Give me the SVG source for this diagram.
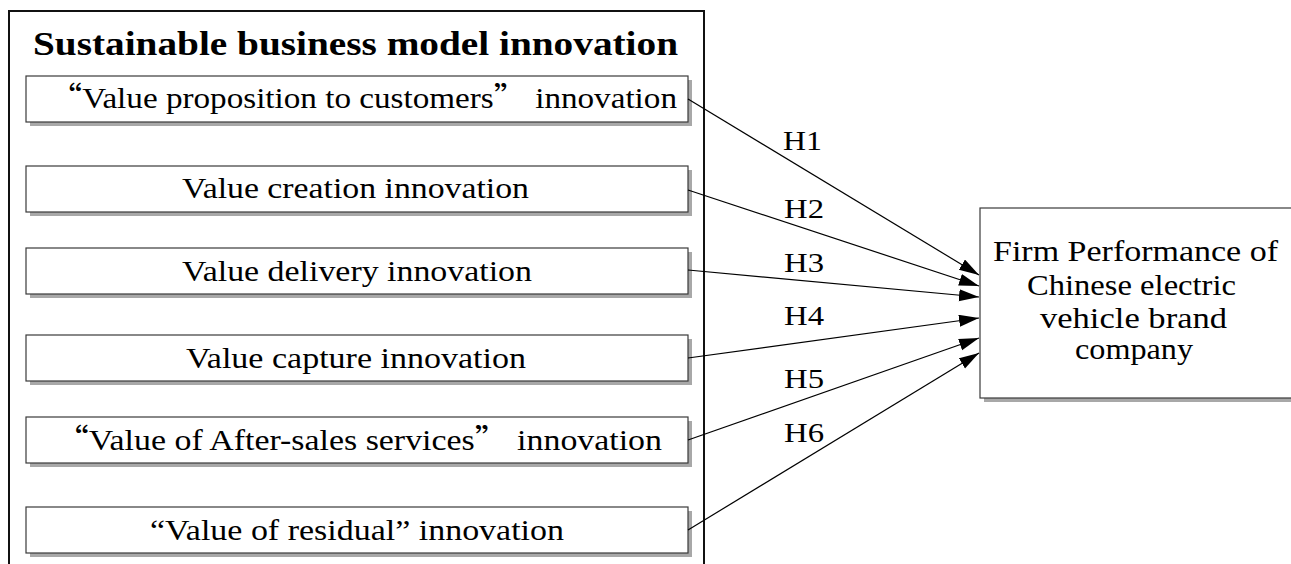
<svg xmlns="http://www.w3.org/2000/svg" width="1291" height="564" viewBox="0 0 1291 564">
  <style>
    .shadow { fill: #a8a8a8; }
    .box { fill: #ffffff; stroke: #3a3a3a; stroke-width: 1.2; }
    .frame { fill: none; stroke: #111111; stroke-width: 2; }
    .lbl { font-size: 30px; fill: #000; }
    .title { font-size: 33px; font-weight: bold; fill: #000; }
    .hyp { font-size: 28px; fill: #000; }
    .edge { stroke: #000; stroke-width: 1.2; fill: none; marker-end: url(#arrow); }
  </style>
  <defs>
    <marker id="arrow" markerUnits="userSpaceOnUse" markerWidth="22" markerHeight="14" refX="20" refY="6" orient="auto">
      <path d="M0,0 L20,6 L0,12 z" fill="#000"/>
    </marker>
  </defs>

  <rect width="1291" height="564" fill="#ffffff"/>

  <g font-family="Liberation Serif, Times New Roman, serif">
    <!-- outer container -->
    <g id="container">
      <rect class="frame" x="9" y="11" width="695" height="600"/>
      <text class="title" font-family="Liberation Serif, serif" x="33" y="55" textLength="645" lengthAdjust="spacingAndGlyphs">Sustainable business model innovation</text>
    </g>

    <g id="n1">
      <rect class="shadow" x="30" y="80" width="662" height="46"/>
      <rect class="box" x="26" y="76" width="662" height="46"/>
      <text class="lbl" font-family="Liberation Serif, serif" x="49" y="108" textLength="628" lengthAdjust="spacingAndGlyphs"><tspan font-family="Noto Sans CJK SC, sans-serif">“</tspan>Value proposition to customers<tspan font-family="Noto Sans CJK SC, sans-serif">”</tspan> innovation</text>
    </g>

    <g id="n2">
      <rect class="shadow" x="30" y="170" width="662" height="46"/>
      <rect class="box" x="26" y="166" width="662" height="46"/>
      <text class="lbl" font-family="Liberation Serif, serif" x="182" y="198" textLength="347" lengthAdjust="spacingAndGlyphs">Value creation innovation</text>
    </g>

    <g id="n3">
      <rect class="shadow" x="30" y="252" width="662" height="46"/>
      <rect class="box" x="26" y="248" width="662" height="46"/>
      <text class="lbl" font-family="Liberation Serif, serif" x="182" y="281" textLength="350" lengthAdjust="spacingAndGlyphs">Value delivery innovation</text>
    </g>

    <g id="n4">
      <rect class="shadow" x="30" y="339" width="662" height="46"/>
      <rect class="box" x="26" y="335" width="662" height="46"/>
      <text class="lbl" font-family="Liberation Serif, serif" x="186" y="368" textLength="340" lengthAdjust="spacingAndGlyphs">Value capture innovation</text>
    </g>

    <g id="n5">
      <rect class="shadow" x="30" y="421" width="662" height="46"/>
      <rect class="box" x="26" y="417" width="662" height="46"/>
      <text class="lbl" font-family="Liberation Serif, serif" x="55" y="450" textLength="607" lengthAdjust="spacingAndGlyphs"><tspan font-family="Noto Sans CJK SC, sans-serif">“</tspan>Value of After-sales services<tspan font-family="Noto Sans CJK SC, sans-serif">”</tspan> innovation</text>
    </g>

    <g id="n6">
      <rect class="shadow" x="30" y="511" width="662" height="46"/>
      <rect class="box" x="26" y="507" width="662" height="46"/>
      <text class="lbl" font-family="Liberation Serif, serif" x="150" y="540" textLength="414" lengthAdjust="spacingAndGlyphs">“Value of residual” innovation</text>
    </g>

    <g id="target">
      <rect class="shadow" x="984" y="212" width="320" height="190"/>
      <rect class="box" x="980" y="208" width="320" height="190"/>
      <text class="lbl" font-family="Liberation Serif, serif" x="993" y="261" textLength="285" lengthAdjust="spacingAndGlyphs">Firm Performance of</text>
      <text class="lbl" font-family="Liberation Serif, serif" x="1027" y="295" textLength="209" lengthAdjust="spacingAndGlyphs">Chinese electric</text>
      <text class="lbl" font-family="Liberation Serif, serif" x="1040" y="328" textLength="187" lengthAdjust="spacingAndGlyphs">vehicle brand</text>
      <text class="lbl" font-family="Liberation Serif, serif" x="1075" y="359" textLength="118" lengthAdjust="spacingAndGlyphs">company</text>
    </g>

    <g id="connectors">
      <line class="edge" x1="688" y1="99" x2="979" y2="275"/>
      <line class="edge" x1="688" y1="190" x2="979" y2="286"/>
      <line class="edge" x1="688" y1="270" x2="979" y2="297"/>
      <line class="edge" x1="688" y1="358" x2="979" y2="318"/>
      <line class="edge" x1="688" y1="440" x2="979" y2="338"/>
      <line class="edge" x1="688" y1="530" x2="979" y2="353"/>
      <text class="hyp" font-family="Liberation Serif, serif" x="783" y="150" textLength="39" lengthAdjust="spacingAndGlyphs">H1</text>
      <text class="hyp" font-family="Liberation Serif, serif" x="784" y="218" textLength="40" lengthAdjust="spacingAndGlyphs">H2</text>
      <text class="hyp" font-family="Liberation Serif, serif" x="784" y="272" textLength="40" lengthAdjust="spacingAndGlyphs">H3</text>
      <text class="hyp" font-family="Liberation Serif, serif" x="784" y="325" textLength="40" lengthAdjust="spacingAndGlyphs">H4</text>
      <text class="hyp" font-family="Liberation Serif, serif" x="784" y="388" textLength="40" lengthAdjust="spacingAndGlyphs">H5</text>
      <text class="hyp" font-family="Liberation Serif, serif" x="784" y="442" textLength="40" lengthAdjust="spacingAndGlyphs">H6</text>
    </g>
  </g>
</svg>
